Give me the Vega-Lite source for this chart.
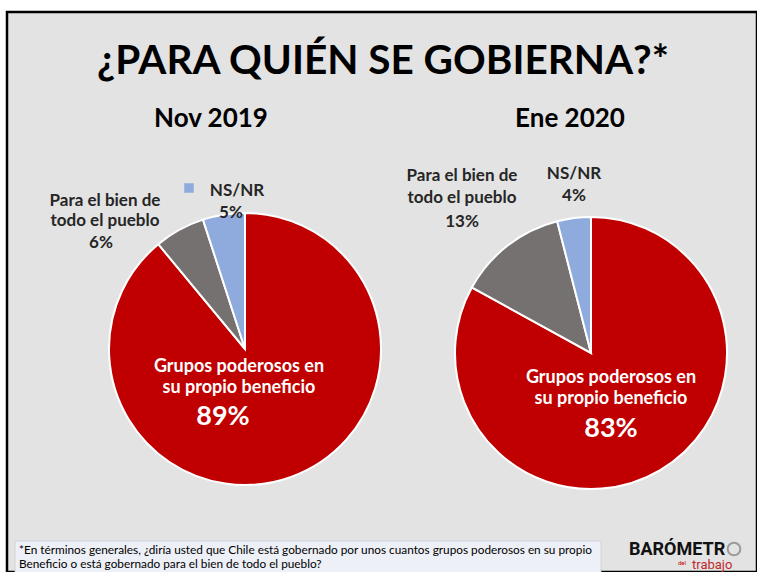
{
  "$schema": "https://vega.github.io/schema/vega-lite/v6.json",
  "width": 757,
  "height": 572,
  "autosize": {"type": "fit", "contains": "padding"},
  "padding": {"left": 6, "top": 11, "right": 0, "bottom": 0},
  "background": "white",
  "view": {"fill": "#e3e3e3", "stroke": "#000000", "strokeWidth": 2.5},
  "config": {"font": "Lato", "text": {"font": "Lato"}},
  "datasets": {
    "pies": [
      {"period": "Nov 2019", "category": "Grupos poderosos en su propio beneficio", "label": "Grupos poderosos en\nsu propio beneficio", "value": 0.89},
      {"period": "Nov 2019", "category": "Para el bien de todo el pueblo", "label": "Para el bien de\ntodo el pueblo", "value": 0.06},
      {"period": "Nov 2019", "category": "NS/NR", "label": "NS/NR", "value": 0.05},
      {"period": "Ene 2020", "category": "Grupos poderosos en su propio beneficio", "label": "Grupos poderosos en\nsu propio beneficio", "value": 0.83},
      {"period": "Ene 2020", "category": "Para el bien de todo el pueblo", "label": "Para el bien de\ntodo el pueblo", "value": 0.13},
      {"period": "Ene 2020", "category": "NS/NR", "label": "NS/NR", "value": 0.04}
    ]
  },
  "layer": [
    {
      "data": {"name": "pies"},
      "transform": [{"filter": "datum.period === 'Nov 2019'"}],
      "encoding": {
        "x": {"field": "period", "type": "nominal", "scale": {"type": "point", "domain": ["Nov 2019", "Ene 2020"], "range": [238, 584], "padding": 0}, "axis": null},
        "y": {"field": "period", "type": "nominal", "scale": {"type": "point", "domain": ["Nov 2019", "Ene 2020"], "range": [337, 341], "padding": 0}, "axis": null}
      },
      "layer": [
        {
          "mark": {"type": "arc", "outerRadius": 136, "stroke": "white", "strokeWidth": 2},
          "encoding": {
            "theta": {"field": "value", "type": "quantitative", "stack": true},
            "color": {"field": "category", "type": "nominal", "scale": {"domain": ["Grupos poderosos en su propio beneficio", "Para el bien de todo el pueblo", "NS/NR"], "range": ["#c00000", "#767171", "#8faadc"]}, "legend": null},
            "order": {"field": "value", "sort": "descending"}
          }
        },
        {
          "transform": [{"filter": "datum.category === 'Grupos poderosos en su propio beneficio'"}],
          "mark": {"type": "text", "dx": -34, "dy": -230, "fontSize": 26, "fontWeight": "bold", "fill": "#000000", "align": "center", "baseline": "middle"},
          "encoding": {"text": {"field": "period"}}
        },
        {
          "transform": [{"filter": "datum.category === 'Grupos poderosos en su propio beneficio'"}],
          "mark": {"type": "text", "dx": -6, "dy": 18, "fontSize": 18, "fontWeight": "bold", "fill": "white", "align": "center", "baseline": "middle", "lineBreak": "\n", "lineHeight": 21},
          "encoding": {"text": {"field": "label"}}
        },
        {
          "transform": [{"filter": "datum.category === 'Grupos poderosos en su propio beneficio'"}],
          "mark": {"type": "text", "dx": -22, "dy": 68, "fontSize": 27, "fontWeight": "bold", "fill": "white", "align": "center", "baseline": "middle"},
          "encoding": {"text": {"field": "value", "type": "quantitative", "format": ".0%"}}
        },
        {
          "transform": [{"filter": "datum.category === 'Para el bien de todo el pueblo'"}],
          "mark": {"type": "text", "dx": -140, "dy": -148, "fontSize": 17, "fontWeight": "bold", "fill": "#262626", "align": "center", "baseline": "middle", "lineBreak": "\n", "lineHeight": 20},
          "encoding": {"text": {"field": "label"}}
        },
        {
          "transform": [{"filter": "datum.category === 'Para el bien de todo el pueblo'"}],
          "mark": {"type": "text", "dx": -144, "dy": -106, "fontSize": 17, "fontWeight": "bold", "fill": "#262626", "align": "center", "baseline": "middle"},
          "encoding": {"text": {"field": "value", "type": "quantitative", "format": ".0%"}}
        },
        {
          "transform": [{"filter": "datum.category === 'NS/NR'"}],
          "mark": {"type": "text", "dx": -8, "dy": -158, "fontSize": 17, "fontWeight": "bold", "fill": "#262626", "align": "center", "baseline": "middle"},
          "encoding": {"text": {"field": "label"}}
        },
        {
          "transform": [{"filter": "datum.category === 'NS/NR'"}],
          "mark": {"type": "text", "dx": -14, "dy": -136, "fontSize": 17, "fontWeight": "bold", "fill": "#262626", "align": "center", "baseline": "middle"},
          "encoding": {"text": {"field": "value", "type": "quantitative", "format": ".0%"}}
        },
        {
          "transform": [{"filter": "datum.category === 'NS/NR'"}],
          "mark": {"type": "point", "shape": "square", "size": 90, "filled": true, "fill": "#8faadc", "opacity": 1, "xOffset": -56, "yOffset": -161},
          "encoding": {}
        }
      ]
    },
    {
      "data": {"name": "pies"},
      "transform": [{"filter": "datum.period === 'Ene 2020'"}],
      "encoding": {
        "x": {"field": "period", "type": "nominal", "scale": {"type": "point", "domain": ["Nov 2019", "Ene 2020"], "range": [238, 584], "padding": 0}, "axis": null},
        "y": {"field": "period", "type": "nominal", "scale": {"type": "point", "domain": ["Nov 2019", "Ene 2020"], "range": [337, 341], "padding": 0}, "axis": null}
      },
      "layer": [
        {
          "mark": {"type": "arc", "outerRadius": 136, "stroke": "white", "strokeWidth": 2},
          "encoding": {
            "theta": {"field": "value", "type": "quantitative", "stack": true},
            "color": {"field": "category", "type": "nominal", "scale": {"domain": ["Grupos poderosos en su propio beneficio", "Para el bien de todo el pueblo", "NS/NR"], "range": ["#c00000", "#767171", "#8faadc"]}, "legend": null},
            "order": {"field": "value", "sort": "descending"}
          }
        },
        {
          "transform": [{"filter": "datum.category === 'Grupos poderosos en su propio beneficio'"}],
          "mark": {"type": "text", "dx": -21, "dy": -234, "fontSize": 26, "fontWeight": "bold", "fill": "#000000", "align": "center", "baseline": "middle"},
          "encoding": {"text": {"field": "period"}}
        },
        {
          "transform": [{"filter": "datum.category === 'Grupos poderosos en su propio beneficio'"}],
          "mark": {"type": "text", "dx": 20, "dy": 25, "fontSize": 18, "fontWeight": "bold", "fill": "white", "align": "center", "baseline": "middle", "lineBreak": "\n", "lineHeight": 21},
          "encoding": {"text": {"field": "label"}}
        },
        {
          "transform": [{"filter": "datum.category === 'Grupos poderosos en su propio beneficio'"}],
          "mark": {"type": "text", "dx": 20, "dy": 76, "fontSize": 27, "fontWeight": "bold", "fill": "white", "align": "center", "baseline": "middle"},
          "encoding": {"text": {"field": "value", "type": "quantitative", "format": ".0%"}}
        },
        {
          "transform": [{"filter": "datum.category === 'Para el bien de todo el pueblo'"}],
          "mark": {"type": "text", "dx": -129, "dy": -177, "fontSize": 17, "fontWeight": "bold", "fill": "#262626", "align": "center", "baseline": "middle", "lineBreak": "\n", "lineHeight": 22},
          "encoding": {"text": {"field": "label"}}
        },
        {
          "transform": [{"filter": "datum.category === 'Para el bien de todo el pueblo'"}],
          "mark": {"type": "text", "dx": -129, "dy": -131, "fontSize": 17, "fontWeight": "bold", "fill": "#262626", "align": "center", "baseline": "middle"},
          "encoding": {"text": {"field": "value", "type": "quantitative", "format": ".0%"}}
        },
        {
          "transform": [{"filter": "datum.category === 'NS/NR'"}],
          "mark": {"type": "text", "dx": -17, "dy": -179, "fontSize": 17, "fontWeight": "bold", "fill": "#262626", "align": "center", "baseline": "middle"},
          "encoding": {"text": {"field": "label"}}
        },
        {
          "transform": [{"filter": "datum.category === 'NS/NR'"}],
          "mark": {"type": "text", "dx": -17, "dy": -157, "fontSize": 17, "fontWeight": "bold", "fill": "#262626", "align": "center", "baseline": "middle"},
          "encoding": {"text": {"field": "value", "type": "quantitative", "format": ".0%"}}
        }
      ]
    },
    {
      "data": {"values": [{}]},
      "mark": {"type": "rule", "x": 509, "y": 207, "x2": 501, "y2": 229, "stroke": "#000000", "strokeWidth": 1},
      "encoding": {}
    },
    {
      "data": {"values": [{}]},
      "mark": {"type": "rule", "x": 568, "y": 196, "x2": 568, "y2": 202, "stroke": "#000000", "strokeWidth": 1},
      "encoding": {}
    },
    {
      "data": {"values": [{}]},
      "mark": {"type": "text", "x": 376, "y": 62, "text": "¿PARA QUIÉN SE GOBIERNA?*", "fontSize": 40.5, "fontWeight": "bold", "fill": "#000000", "align": "center", "baseline": "alphabetic"},
      "encoding": {}
    },
    {
      "data": {"values": [{}]},
      "mark": {"type": "rect", "x": 8, "y": 529, "x2": 594, "y2": 561, "fill": "#eef0f7", "stroke": "#c9ccd6", "strokeWidth": 0.8},
      "encoding": {}
    },
    {
      "data": {"values": [{}]},
      "mark": {"type": "text", "x": 12, "y": 542, "text": "*En términos generales, ¿diría usted que Chile está gobernado por unos cuantos grupos poderosos en su propio\nBeneficio o está gobernado para el bien de todo el pueblo?", "lineBreak": "\n", "lineHeight": 14, "fontSize": 11.8, "fill": "#000000", "align": "left", "baseline": "alphabetic"},
      "encoding": {}
    },
    {
      "data": {"values": [{}]},
      "mark": {"type": "text", "x": 622, "y": 543, "text": "BARÓMETR", "font": "Roboto", "fontSize": 18, "fontWeight": "bold", "fill": "#111111", "align": "left", "baseline": "alphabetic"},
      "encoding": {}
    },
    {
      "data": {"values": [{}]},
      "mark": {"type": "point", "x": 727, "y": 537, "shape": "circle", "size": 160, "filled": false, "stroke": "#9a9a9a", "strokeWidth": 2, "opacity": 1},
      "encoding": {}
    },
    {
      "data": {"values": [{}]},
      "mark": {"type": "text", "x": 679, "y": 553, "text": "del", "font": "Roboto", "fontSize": 6, "fill": "#c00000", "align": "right", "baseline": "alphabetic"},
      "encoding": {}
    },
    {
      "data": {"values": [{}]},
      "mark": {"type": "text", "x": 685, "y": 557, "text": "trabajo", "font": "Roboto", "fontSize": 13, "fill": "#c0282d", "align": "left", "baseline": "alphabetic"},
      "encoding": {}
    }
  ]
}
